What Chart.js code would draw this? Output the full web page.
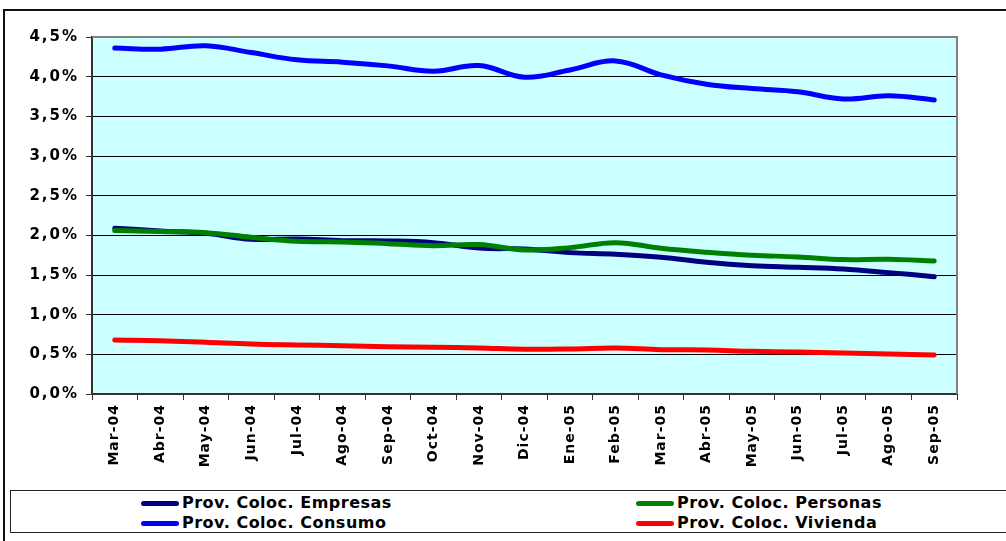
<!DOCTYPE html>
<html>
<head>
<meta charset="utf-8">
<script src="https://cdn.jsdelivr.net/npm/chart.js@4/dist/chart.umd.min.js"></script>
<style>
  html, body { margin: 0; padding: 0; background: #fff; }
  #wrap { position: relative; width: 1006px; height: 541px; overflow: hidden; }
  #frame { position: absolute; left: 3px; top: 9px; width: 1020px; height: 560px;
           border-left: 2px solid #111; border-top: 2px solid #111; }
  #chart { position: absolute; left: 0; top: 0; }
  #legend { position: absolute; left: 10px; top: 490px; width: 1010px; height: 41px;
            border: 1.5px solid #222; background: #fff; }
  .item { position: absolute; font: bold 16px "DejaVu Sans", Verdana, sans-serif; color: #000;
          white-space: nowrap; line-height: 18px; letter-spacing: 0.5px; }
  .sw { position: absolute; width: 38px; height: 5px; border-radius: 3px; top: 7px; }
  .txt { position: absolute; left: 41px; top: 0; }
</style>
</head>
<body>
<div id="wrap">
  <div id="frame"></div>
  <canvas id="chart" width="1006" height="541"></canvas>
  <div id="legend"></div>
</div>
<script>
// Months shown on the category axis
const months = ["Mar-04", "Abr-04", "May-04", "Jun-04", "Jul-04", "Ago-04", "Sep-04", "Oct-04",
                "Nov-04", "Dic-04", "Ene-05", "Feb-05", "Mar-05", "Abr-05", "May-05", "Jun-05",
                "Jul-05", "Ago-05", "Sep-05"];

// Provisions / loans ratio, in percent
const empresas = [2.09, 2.055, 2.026, 1.95, 1.955, 1.933, 1.93, 1.908, 1.84, 1.828,
                  1.782, 1.762, 1.724, 1.66, 1.618, 1.598, 1.576, 1.53, 1.479];
const personas = [2.06, 2.047, 2.034, 1.976, 1.925, 1.917, 1.895, 1.87, 1.883, 1.816,
                  1.845, 1.908, 1.837, 1.787, 1.749, 1.728, 1.694, 1.699, 1.677];
const consumo  = [4.36, 4.347, 4.39, 4.304, 4.212, 4.183, 4.136, 4.069, 4.14, 3.994,
                  4.085, 4.199, 4.023, 3.905, 3.85, 3.81, 3.72, 3.758, 3.707];
const vivienda = [0.681, 0.672, 0.652, 0.63, 0.618, 0.609, 0.597, 0.589, 0.58, 0.564,
                  0.567, 0.58, 0.559, 0.555, 0.538, 0.53, 0.517, 0.504, 0.492];

// Value axis ticks
const yTicks = [0, 0.5, 1.0, 1.5, 2.0, 2.5, 3.0, 3.5, 4.0, 4.5];

const seriesNames = ["Prov. Coloc. Empresas", "Prov. Coloc. Personas",
                     "Prov. Coloc. Consumo", "Prov. Coloc. Vivienda"];
const seriesColors = ["#000080", "#008000", "#0000FF", "#FF0000"];
const seriesData = [empresas, personas, consumo, vivienda];
// drawing order: lower number is painted on top
const seriesOrder = [1, 0, 2, 3];

// Wider tracking for the axis labels
const labelSpacing = { x: '1px', y: '2px' };

const plotBg = {
  id: 'plotBg',
  afterLayout(chart) {
    ['x', 'y'].forEach(id => {
      const s = chart.scales[id];
      if (!s || s._spaced) return;
      const orig = s.drawLabels.bind(s);
      s.drawLabels = function (area) {
        const ctx = chart.ctx;
        ctx.save();
        ctx.letterSpacing = labelSpacing[id];
        orig(area);
        ctx.restore();
      };
      s._spaced = true;
    });
  },
  beforeDraw(chart) {
    const { ctx, chartArea: a } = chart;
    ctx.save();
    ctx.fillStyle = '#CCFFFF';
    ctx.fillRect(a.left, a.top, a.right - a.left, a.bottom - a.top);
    ctx.restore();
  },
  afterDatasetsDraw(chart) {
    const { ctx, chartArea: a } = chart;
    ctx.save();
    ctx.strokeStyle = '#808080';
    ctx.lineWidth = 2;
    ctx.beginPath();
    ctx.moveTo(a.left, a.top);
    ctx.lineTo(a.right, a.top);
    ctx.lineTo(a.right, a.bottom);
    ctx.stroke();
    ctx.restore();
  }
};

new Chart(document.getElementById('chart'), {
  type: 'line',
  data: {
    labels: months,
    datasets: seriesData.map((d, i) => ({
      label: seriesNames[i],
      data: d,
      borderColor: seriesColors[i],
      backgroundColor: seriesColors[i],
      borderWidth: 5,
      borderCapStyle: 'round',
      borderJoinStyle: 'round',
      pointRadius: 0,
      tension: 0.4,
      fill: false,
      order: seriesOrder[i]
    }))
  },
  options: {
    responsive: false,
    animation: false,
    devicePixelRatio: 1,
    layout: { padding: { left: 0, top: 37, right: 49, bottom: 0 } },
    plugins: { legend: { display: false }, tooltip: { enabled: false }, title: { display: false } },
    scales: {
      x: {
        offset: true,
        grid: { drawOnChartArea: false, offset: true, drawTicks: true, tickLength: 6, color: '#333', lineWidth: 1 },
        border: { color: '#333', width: 2 },
        ticks: {
          minRotation: 90, maxRotation: 90, autoSkip: false, padding: 4,
          color: '#000', font: { family: 'DejaVu Sans', weight: 'bold', size: 14 }
        },
        afterFit(scale) { scale.height = 147; }
      },
      y: {
        min: 0, max: 4.5,
        afterBuildTicks(scale) { scale.ticks = yTicks.map(v => ({ value: v })); },
        grid: { color: '#000', lineWidth: 1, drawTicks: true, tickLength: 6, tickColor: '#333' },
        border: { color: '#333', width: 2 },
        ticks: {
          padding: 7, color: '#000',
          font: { family: 'DejaVu Sans', weight: 'bold', size: 15 },
          callback: v => v.toFixed(1).replace('.', ',') + '%'
        },
        afterFit(scale) { scale.width = 92; }
      }
    }
  },
  plugins: [plotBg]
});

// Legend in two columns, two rows
const legend = document.getElementById('legend');
const legendPos = [[130, 3], [625, 3], [130, 23], [625, 23]];
const legendSeries = [0, 1, 2, 3];
legendSeries.forEach((s, k) => {
  const it = document.createElement('div');
  it.className = 'item';
  it.style.left = legendPos[k][0] + 'px';
  it.style.top = legendPos[k][1] + 'px';
  const sw = document.createElement('span');
  sw.className = 'sw';
  sw.style.background = seriesColors[s];
  const tx = document.createElement('span');
  tx.className = 'txt';
  tx.textContent = seriesNames[s];
  it.appendChild(sw); it.appendChild(tx);
  legend.appendChild(it);
});
</script>
</body>
</html>
